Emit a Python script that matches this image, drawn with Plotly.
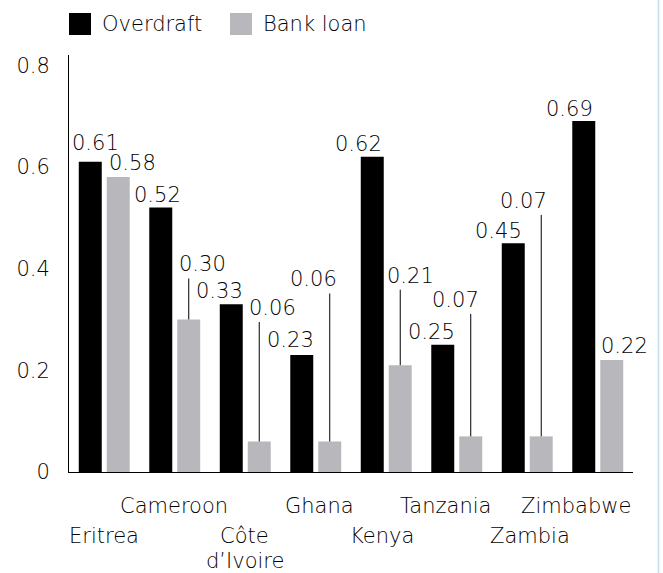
import plotly.graph_objects as go

# ---- data -------------------------------------------------------------
countries = ["Eritrea", "Cameroon", "Côte d’Ivoire", "Ghana",
             "Kenya", "Tanzania", "Zambia", "Zimbabwe"]
overdraft = [0.61, 0.52, 0.33, 0.23, 0.62, 0.25, 0.45, 0.69]
bank_loan = [0.58, 0.30, 0.06, 0.06, 0.21, 0.07, 0.07, 0.22]
y_tick_vals = [0, 0.2, 0.4, 0.6, 0.8]
y_tick_text = ["0", "0.2", "0.4", "0.6", "0.8"]
series_names = ["Overdraft", "Bank loan"]

# ---- styling / placement ---------------------------------------------
W, H = 663, 573
L, R, T, B = 69, 30, 55, 101
PW, PH = W - L - R, H - T - B
Y_MAX = 0.82
PPU = PH / Y_MAX                     # pixels per data unit on y
BARGAP, GROUPGAP = 0.206, 0.179
OFF = (1 - BARGAP) / 4               # bar centre offset from category centre

FONT = "DejaVu Sans"
WEIGHT = 200
FS = 21
TXT = "#000000"
C_OD = "#000000"
C_BL = "#b8b7bc"


def tfont(size=FS):
    return dict(family=FONT, size=size, color=TXT, weight=WEIGHT)


# value-label offsets in pixels (dx from bar centre, height above bar top)
od_dx = [4.75, -3.25, -11.75, -11.25, -14.25, -11.75, -14.75, -14.25]
od_up = [18.5, 13, 13.5, 15, 13, 13, 12.5, 12.5]
bl_dx = [14.25, 14.25, 13.75, -16.25, 10.75, -14.75, -17.25, 12.75]
bl_up = [13.7, 55, 133.5, 162, 89.5, 136.5, 235.5, 14]
bl_leader = [False, True, True, True, True, True, True, False]

# category label placement: row (0 upper, 1 lower) and horizontal nudge
cat_row = [1, 0, 1, 0, 1, 0, 1, 0]
cat_dx = [-0.75, -0.75, -0.5, 3.25, -4.25, -11.75, 2.25, -21.75]
ROW_Y = [504.5, 535, 559.5]          # pixel centres of label rows


def px_x(x):
    return (x - L) / PW


def px_y(y):
    return (H - B - y) / PH


xs = list(range(len(countries)))

fig = go.Figure()
fig.add_bar(x=xs, y=overdraft, name=series_names[0], marker_color=C_OD,
            marker_line_width=0, showlegend=False)
fig.add_bar(x=xs, y=bank_loan, name=series_names[1], marker_color=C_BL,
            marker_line_width=0, showlegend=False)

annotations = []
shapes = []

fmt = "{:.2f}"
for i in xs:
    # overdraft labels sit just above the bars
    annotations.append(dict(
        x=i - OFF, y=overdraft[i], xref="x", yref="y",
        text=fmt.format(overdraft[i]), showarrow=False,
        xanchor="center", yanchor="middle",
        xshift=od_dx[i], yshift=od_up[i], font=tfont()))
    # bank-loan labels, raised with a leader line where bars are crowded
    annotations.append(dict(
        x=i + OFF, y=bank_loan[i], xref="x", yref="y",
        text=fmt.format(bank_loan[i]), showarrow=False,
        xanchor="center", yanchor="middle",
        xshift=bl_dx[i], yshift=bl_up[i], font=tfont()))
    if bl_leader[i]:
        shapes.append(dict(
            type="line", xref="x", yref="y",
            x0=i + OFF, x1=i + OFF,
            y0=bank_loan[i], y1=bank_loan[i] + (bl_up[i] - 14) / PPU,
            line=dict(color="#000000", width=1)))

# staggered category labels under the axis
for i, name in enumerate(countries):
    parts = name.split(" ") if name.startswith("Côte") else [name]
    for k, part in enumerate(parts):
        row = cat_row[i] + k
        annotations.append(dict(
            x=i, y=0, xref="x", yref="paper",
            text=part, showarrow=False,
            xanchor="center", yanchor="middle",
            xshift=cat_dx[i], yshift=(H - B) - ROW_Y[row] - 1,
            font=tfont()))

# legend drawn as swatches + text along the top
legend_items = [(69, 100, C_OD, series_names[0]),
                (230, 261, C_BL, series_names[1])]
for sx, tx, col, label in legend_items:
    shapes.append(dict(type="rect", xref="paper", yref="paper",
                       x0=px_x(sx), x1=px_x(sx + 22),
                       y0=px_y(35), y1=px_y(13),
                       fillcolor=col, line_width=0))
    annotations.append(dict(x=px_x(tx), y=px_y(24), xref="paper",
                            yref="paper", text=label, showarrow=False,
                            xanchor="left", yanchor="middle",
                            font=tfont()))

# thin frame line at the right edge of the page
shapes.append(dict(type="line", xref="paper", yref="paper",
                   x0=px_x(658.5), x1=px_x(658.5),
                   y0=px_y(0), y1=px_y(H),
                   line=dict(color="#c6dbe9", width=1.5)))

fig.update_layout(
    width=W, height=H,
    margin=dict(l=L, r=R, t=T, b=B),
    paper_bgcolor="white", plot_bgcolor="white",
    barmode="group", bargap=BARGAP, bargroupgap=GROUPGAP,
    annotations=annotations, shapes=shapes,
    font=tfont(),
    xaxis=dict(range=[-0.5, len(countries) - 0.5], showticklabels=False,
               ticks="", showgrid=False, zeroline=False,
               showline=True, linecolor="#000000", linewidth=1),
    yaxis=dict(range=[0, Y_MAX], tickvals=y_tick_vals, ticktext=y_tick_text,
               ticks="", showgrid=False, zeroline=False,
               showline=True, linecolor="#000000", linewidth=1,
               ticklabelstandoff=14, tickfont=tfont()),
)

fig.write_html("out.html")
